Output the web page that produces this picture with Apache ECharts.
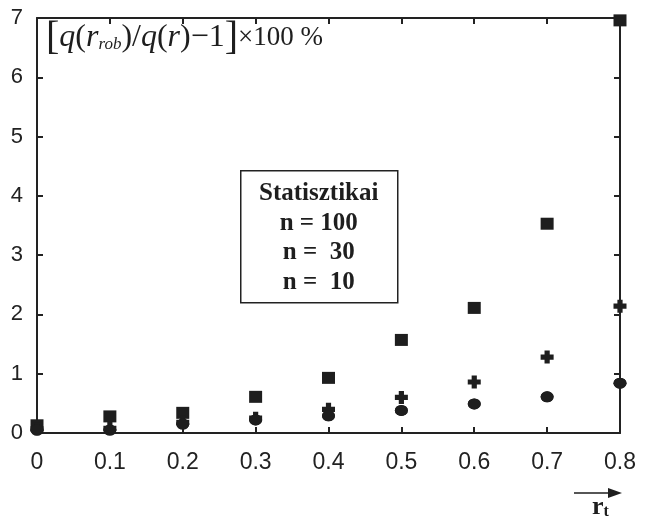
<!DOCTYPE html>
<html>
<head>
<meta charset="utf-8">
<script src="https://cdn.jsdelivr.net/npm/echarts@6/dist/echarts.min.js"></script>
<style>
  html, body { margin: 0; padding: 0; background: #fff; }
  #chart { width: 647px; height: 519px; }
</style>
</head>
<body>
<div id="chart"></div>
<script>
// r_t values along the x axis
const rt = [0, 0.1, 0.2, 0.3, 0.4, 0.5, 0.6, 0.7, 0.8];
// relative error in %, one list per sample size
const n100 = [0.13, 0.28, 0.34, 0.61, 0.93, 1.57, 2.11, 3.53, 6.96];
const n30 = [0.07, 0.08, 0.18, 0.25, 0.40, 0.60, 0.86, 1.28, 2.14];
const n10 = [0.05, 0.05, 0.15, 0.22, 0.29, 0.38, 0.49, 0.61, 0.84];
const legendLines = ["Statisztikai", "n = 100", "n =  30", "n =  10"];

const ink = "#1e1e1e";
const frame = "#222";
const plusPath = "path://M3,0H7V3H10V7H7V10H3V7H0V3H3Z";

const chart = echarts.init(document.getElementById("chart"), null, { renderer: "canvas" });

const pairs = (ys) => rt.map((x, i) => [x, ys[i]]);

function axis(kind, position, label) {
  const isX = kind === "x";
  return {
    type: "value",
    min: 0,
    max: isX ? 0.8 : 7,
    interval: isX ? 0.1 : 1,
    position: position,
    axisLine: { show: true, onZero: false, lineStyle: { color: frame, width: 2 } },
    axisTick: { show: true, inside: true, length: 6, lineStyle: { color: frame, width: 2 } },
    splitLine: { show: false },
    axisLabel: label || { show: false },
  };
}

chart.setOption({
  animation: false,
  grid: { left: 37, right: 27, top: 18, bottom: 86 },
  xAxis: [
    axis("x", "bottom", {
      color: "#222", fontFamily: "Liberation Sans", fontSize: 23, margin: 18,
      formatter: (v) => (v === 0 ? "0" : v.toFixed(1)),
    }),
    axis("x", "top"),
  ],
  yAxis: [
    axis("y", "left", { color: "#222", fontFamily: "Liberation Sans", fontSize: 22, margin: 14 }),
    axis("y", "right"),
  ],
  series: [
    {
      name: "n = 100", type: "scatter", data: pairs(n100),
      symbol: "rect", symbolSize: [13, 12], itemStyle: { color: ink, opacity: 1 },
    },
    {
      name: "n = 30", type: "scatter", data: pairs(n30),
      symbol: plusPath, symbolSize: [13, 13], itemStyle: { color: ink, opacity: 1 },
    },
    {
      name: "n = 10", type: "scatter", data: pairs(n10),
      symbol: "circle", symbolSize: [13, 11], itemStyle: { color: ink, opacity: 1 },
    },
    // the n=10 values again on the top/right axes so those axes get drawn
    {
      name: "n = 10 (frame)", type: "scatter", xAxisIndex: 1, yAxisIndex: 1, data: pairs(n10),
      symbol: "circle", symbolSize: [13, 11], itemStyle: { color: ink, opacity: 1 }, silent: true,
    },
  ],
  graphic: [
    {
      id: "formula", type: "text", left: 46, top: 18, z: 10,
      style: {
        text: "{b|[}{i|q}{p|(}{i|r}{s|rob}{p|)}{p|/}{i|q}{p|(}{i|r}{p|)}{p|−1}{b|]}{n|×100 %}",
        rich: {
          b: { fontFamily: "Liberation Serif", fontSize: 40, fill: ink },
          i: { fontFamily: "Liberation Serif", fontStyle: "italic", fontSize: 32, fill: ink },
          p: { fontFamily: "Liberation Serif", fontSize: 32, fill: ink },
          s: { fontFamily: "Liberation Serif", fontStyle: "italic", fontSize: 17, fill: ink, padding: [14, 0, 0, 0] },
          n: { fontFamily: "Liberation Serif", fontSize: 27, fill: ink },
        },
      },
    },
    {
      id: "legendBox", type: "group", left: 240, top: 170, z: 10,
      children: [
        {
          type: "rect", shape: { x: 0, y: 0, width: 157, height: 132 },
          style: { fill: "#fff", stroke: frame, lineWidth: 1.5 },
        },
        ...legendLines.map((t, i) => ({
          type: "text", x: 78, y: 23 + i * 29.5,
          style: {
            text: t, fontFamily: "Liberation Serif", fontWeight: "bold", fontSize: 25,
            fill: ink, align: "center", verticalAlign: "middle",
          },
        })),
      ],
    },
    {
      id: "arrowLine", type: "line", z: 10,
      shape: { x1: 574, y1: 493, x2: 612, y2: 493 },
      style: { stroke: ink, lineWidth: 1.5 },
    },
    {
      id: "arrowHead", type: "polygon", z: 10,
      shape: { points: [[622, 493], [608, 488], [608, 498]] },
      style: { fill: ink },
    },
    {
      id: "rtLabel", type: "text", left: 592, top: 494, z: 10,
      style: {
        text: "{r|r}{t|t}",
        rich: {
          r: { fontFamily: "Liberation Serif", fontWeight: "bold", fontSize: 26, fill: ink },
          t: { fontFamily: "Liberation Serif", fontWeight: "bold", fontSize: 16, fill: ink, padding: [10, 0, 0, 0] },
        },
      },
    },
  ],
});
</script>
</body>
</html>
